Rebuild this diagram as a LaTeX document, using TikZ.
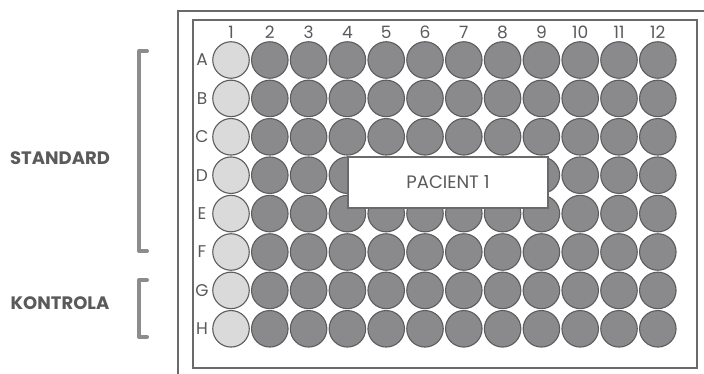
\documentclass[tikz,border=0pt]{standalone}
\usepackage{fontspec}
\setmainfont{Poppins}
\definecolor{txt}{HTML}{5A5A5C}
\definecolor{wdark}{HTML}{8A8A8C}
\definecolor{wlight}{HTML}{DADADB}
\definecolor{wedge}{HTML}{5C5C5E}
\definecolor{brk}{HTML}{8C8C8E}
\definecolor{frame}{HTML}{6A6A6A}
\tikzset{
  well/.style={circle, draw=wedge, line width=1.1pt, minimum size=36.5pt, inner sep=0pt},
  darkwell/.style={well, fill=wdark},
  lightwell/.style={well, fill=wlight},
  lbl/.style={text=txt, font=\fontsize{17}{17}\selectfont, inner sep=0pt},
  side/.style={text=txt, font=\bfseries\fontsize{18}{18}\selectfont, inner sep=0pt},
  bracketline/.style={draw=brk, line width=4pt, line cap=round, line join=round},
  frameline/.style={draw=frame, line width=1.2pt}
}
\begin{document}
\begin{tikzpicture}[x=1pt,y=-1pt]
\useasboundingbox (0,0) rectangle (704,374);
\fill[white] (0,0) rectangle (704,374);
% frames
\draw[frameline] (178,380) -- (178,11) -- (710,11);
\draw[frameline] (193,20) rectangle (697,368);
% wells
\foreach \r [count=\i from 0] in {A,B,C,D,E,F,G,H} {
  \node[lbl] (row\r) at (202,{60+\i*38.4}) {\r};
  \foreach \c in {1,...,12} {
    \ifnum\c=1
      \node[lightwell] (w\r\c) at ({231+(\c-1)*38.8},{60+\i*38.4}) {};
    \else
      \node[darkwell] (w\r\c) at ({231+(\c-1)*38.8},{60+\i*38.4}) {};
    \fi
  }
}
\foreach \c in {1,...,12} {
  \node[lbl] (col\c) at ({231+(\c-1)*38.8},32) {\c};
}
% patient box
\node[draw=frame, line width=1.2pt, fill=white, minimum width=200pt, minimum height=51pt, inner sep=0pt,
      text=txt, font=\fontsize{18}{18}\selectfont] (pac) at (448,182.5) {PACIENT 1};
% brackets
\draw[bracketline] (147,51) -- (139,51) -- (139,251) -- (147,251);
\draw[bracketline] (147,280) -- (139,280) -- (139,337) -- (147,337);
\node[side] (std) at (60,158) {STANDARD};
\node[side] (ctl) at (60,303) {KONTROLA};
\end{tikzpicture}
\end{document}
